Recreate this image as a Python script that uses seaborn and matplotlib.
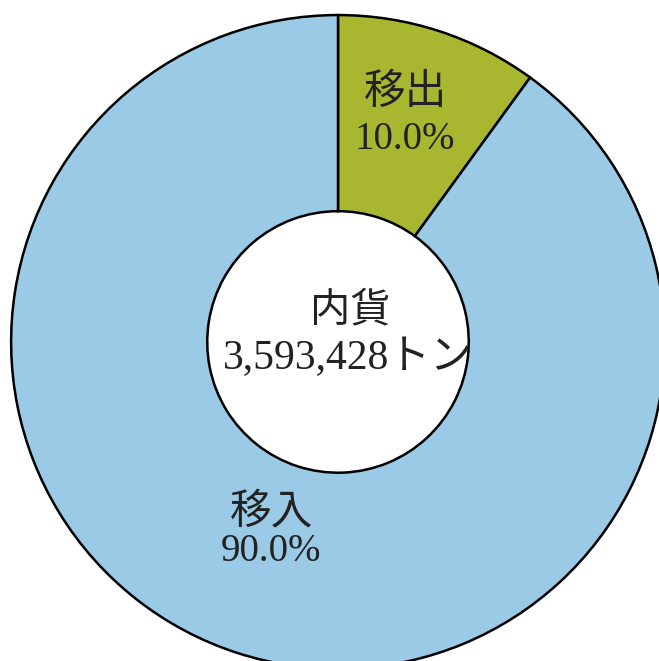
import matplotlib
matplotlib.use('Agg')
import matplotlib.pyplot as plt
import seaborn as sns

sns.set_theme(style='white')
plt.rcParams['font.family'] = ['Liberation Serif', 'Noto Sans CJK JP']

# data
labels = ['移出', '移入']
shares = [10.0, 90.0]
colors = ['#a8b630', '#9acae6']
center_title = '内貨'
center_total = '3,593,428トン'

fig = plt.figure(figsize=(6.59, 6.61), dpi=100)
ax = fig.add_axes([0, 0, 1, 1])
ax.pie(shares, colors=colors, startangle=90, counterclock=False,
       wedgeprops=dict(width=0.6, edgecolor='black', linewidth=1.8))
ax.set_xlim(-1.034, 0.982)
ax.set_ylim(-0.976, 1.046)
ax.set_aspect('equal')
ax.axis('off')

# labels inside the ring
label_pos = [(0.205, 0.758, 0.618), (-0.205, -0.522, -0.642)]
for (x, y1, y2), name, v in zip(label_pos, labels, shares):
    ax.text(x, y1, name, ha='center', va='center', fontsize=30, color='#222222')
    ax.text(x, y2, f'{v:.1f}%', ha='center', va='center', fontsize=28, color='#222222')

ax.text(0.037, 0.092, center_title, ha='center', va='center', fontsize=29, color='#222222')
ax.text(0.03, -0.049, center_total, ha='center', va='center', fontsize=30, color='#222222')

fig.savefig('out.png', dpi=100, facecolor='white')
